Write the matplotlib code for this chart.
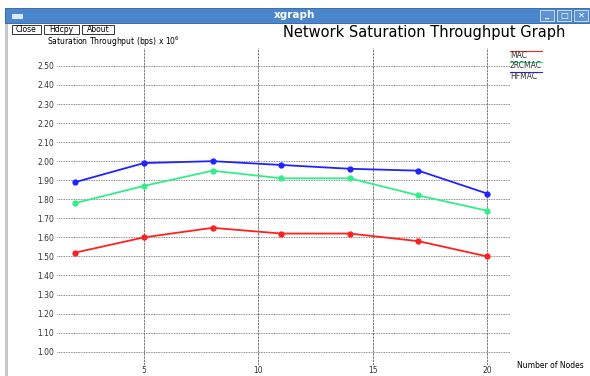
import matplotlib
matplotlib.use("Agg")
import matplotlib.pyplot as plt
from matplotlib.patches import Rectangle
import numpy as np

# Data
nodes = [2, 5, 8, 11, 14, 17, 20]
mac = [1.52, 1.60, 1.65, 1.62, 1.62, 1.58, 1.50]
rcmac = [1.78, 1.87, 1.95, 1.91, 1.91, 1.82, 1.74]
hfmac = [1.89, 1.99, 2.00, 1.98, 1.96, 1.95, 1.83]
series_names = ["MAC", "2RCMAC", "HFMAC"]
series_colors = ["#ff2020", "#33ee88", "#2222ff"]
y_ticks = np.round(np.arange(1.0, 2.51, 0.1), 2)
x_ticks = [5, 10, 15, 20]

W, H = 590, 376
fig = plt.figure(figsize=(W / 100, H / 100), dpi=100)
fig.patch.set_facecolor("white")

def fx(px):
    return px / W

def fy(py):
    return 1 - py / H

# window chrome
fig.patches.append(Rectangle((fx(5), 0), fx(3), fy(8), transform=fig.transFigure,
                             facecolor="#c8c8c8", edgecolor="none"))
fig.patches.append(Rectangle((fx(5), fy(23)), fx(585), fy(8) - fy(23), transform=fig.transFigure,
                             facecolor="#4a86cc", edgecolor="#2d5f9e", lw=0.6))
fig.patches.append(Rectangle((fx(12), fy(18)), fx(10), fy(14) - fy(18), transform=fig.transFigure,
                             facecolor="#dfe8f4", edgecolor="white", lw=0.5))
fig.text(fx(295), fy(15.5), "xgraph", color="white", fontsize=7.5, fontweight="bold",
         ha="center", va="center")
for bx, sym in zip([540, 557, 574], ["_", "□", "✕"]):
    fig.patches.append(Rectangle((fx(bx), fy(21)), fx(14), fy(10) - fy(21), transform=fig.transFigure,
                                 facecolor="#5b93d3", edgecolor="#dfe8f4", lw=0.6))
    fig.text(fx(bx + 7), fy(15.5), sym, color="white", fontsize=6, fontweight="bold",
             ha="center", va="center")

# buttons
for bx, bw, label in zip([12, 44, 82], [29, 35, 32], ["Close", "Hdcpy", "About"]):
    fig.patches.append(Rectangle((fx(bx), fy(34)), fx(bw), fy(25) - fy(34), transform=fig.transFigure,
                                 facecolor="white", edgecolor="#333333", lw=0.7))
    fig.text(fx(bx + bw / 2), fy(29.5), label, fontsize=5.5, ha="center", va="center")

fig.text(fx(283), fy(33), "Network Saturation Throughput Graph", fontsize=10.5,
         ha="left", va="center")
fig.text(fx(47), fy(42), r"Saturation Throughput (bps) x 10$^6$", fontsize=5.5,
         ha="left", va="center")
fig.text(fx(517), fy(366), "Number of Nodes", fontsize=5.5, ha="left", va="center")

# legend
for i, (name, c) in enumerate(zip(series_names, series_colors)):
    y = 51 + i * 10.5
    fig.add_artist(plt.Line2D([fx(510), fx(542)], [fy(y), fy(y)], color=c, lw=0.8,
                              transform=fig.transFigure))
    fig.text(fx(510), fy(y + 4.5), name, fontsize=5.5, ha="left", va="center", color="#333333")

# plot area
ax = fig.add_axes([fx(57), fy(365), fx(510) - fx(57), fy(48) - fy(365)])
ax.set_facecolor("none")
for s in ax.spines.values():
    s.set_visible(False)

for vals, c in zip([mac, rcmac, hfmac], series_colors):
    ax.plot(nodes, vals, color=c, lw=1.3, marker="o", ms=3.5, zorder=3)

ax.set_xlim(1.2, 21.0)
ax.set_ylim(0.93, 2.594)
ax.set_xticks(x_ticks)
ax.set_yticks(y_ticks)
ax.set_yticklabels([f"{v:.2f}" for v in y_ticks])
ax.tick_params(length=0, labelsize=5.5, pad=2, colors="#333333")
ax.tick_params(axis="x", pad=1)
ax.yaxis.grid(True, linestyle=(0, (1, 1)), color="#666666", lw=0.6)
ax.xaxis.grid(True, linestyle=(0, (3, 1)), color="#666666", lw=0.6)

fig.savefig("out.png", dpi=100)
